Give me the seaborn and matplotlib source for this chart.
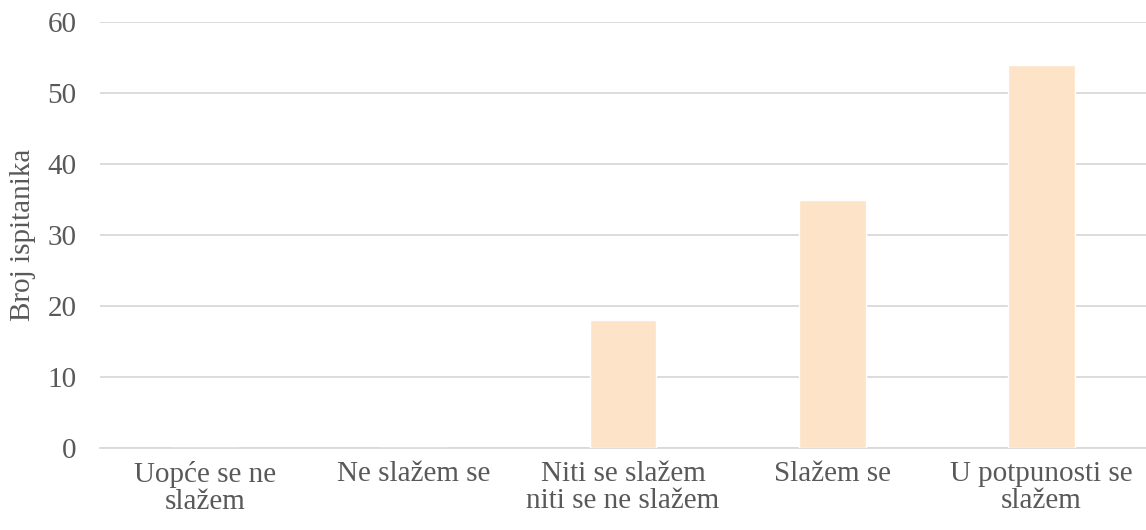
import matplotlib
matplotlib.use("Agg")
import matplotlib.pyplot as plt
import seaborn as sns
import pandas as pd

categories = ["Uopće se ne\nslažem", "Ne slažem se", "Niti se slažem\nniti se ne slažem",
              "Slažem se", "U potpunosti se\nslažem"]
counts = [0, 0, 18, 35, 54]
y_ticks = [0, 10, 20, 30, 40, 50, 60]

sns.set_style("white")
plt.rcParams["font.family"] = "serif"
plt.rcParams["font.serif"] = ["Liberation Serif", "DejaVu Serif"]

df = pd.DataFrame({"kategorija": categories, "broj": counts})

fig = plt.figure(figsize=(11.46, 5.30), dpi=100)
ax = fig.add_axes([0.0873, 0.1547, 0.9127, 0.8038])

sns.barplot(data=df, x="kategorija", y="broj", color="#FDE3C8", saturation=1,
            width=0.32, ax=ax, zorder=3)

text_col = "#595959"
ax.set_ylim(0, 60)
ax.set_yticks(y_ticks)
ax.yaxis.grid(True, color="#D9D9D9", linewidth=1.3, zorder=0)
ax.set_axisbelow(True)
for s in ["top", "right", "left"]:
    ax.spines[s].set_visible(False)
ax.spines["bottom"].set_color("#D9D9D9")
ax.spines["bottom"].set_linewidth(1.3)
ax.tick_params(axis="both", length=0, labelsize=21, colors=text_col)
ax.tick_params(axis="x", pad=9)
ax.tick_params(axis="y", pad=17)
for lbl in ax.get_xticklabels():
    lbl.set_linespacing(1.05)
ax.set_xlabel("")
ax.set_ylabel("Broj ispitanika", fontsize=21, color=text_col, labelpad=8)

fig.savefig("out.png", dpi=100)
